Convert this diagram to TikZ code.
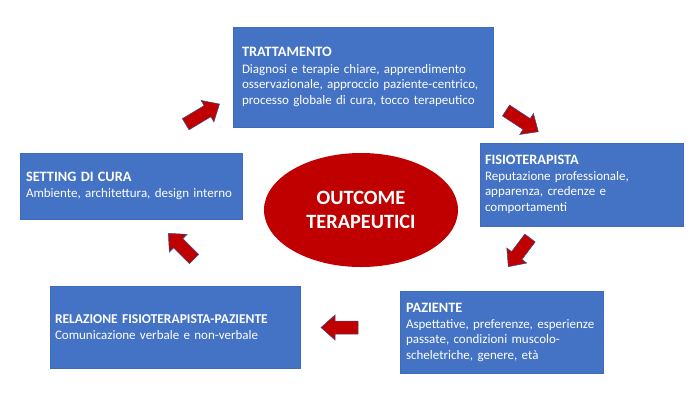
\documentclass[tikz,border=0pt]{standalone}
\usepackage{fontspec}
\setmainfont{Carlito}
\usetikzlibrary{calc,shapes.geometric}
\definecolor{boxblue}{HTML}{4472C4}
\definecolor{boxedge}{HTML}{3E6BBB}
\definecolor{arrred}{HTML}{C00000}
\definecolor{arrline}{HTML}{2F528F}
\newcommand{\blockarr}[2]{%
  \path ($(#2)!14pt!(#1)$) coordinate (#2b);
  \draw[barrow] ($(#1)!6.5pt!90:(#2)$) -- ($(#2b)!6.5pt!90:(#2)$) -- ($(#2b)!12.5pt!90:(#2)$) -- (#2)
     -- ($(#2b)!12.5pt!-90:(#2)$) -- ($(#2b)!6.5pt!-90:(#2)$) -- ($(#1)!6.5pt!-90:(#2)$) -- cycle;}
\newcommand{\ttl}[1]{{\fontsize{14.3}{17}\selectfont\bfseries #1}}
\begin{document}
\begin{tikzpicture}[x=1pt,y=-1pt,
  box/.style={fill=boxblue, draw=boxedge, line width=0.6pt, text=white, align=left,
    font=\fontsize{13}{15.5}\selectfont, inner ysep=0pt},
  outc/.style={ellipse, fill=arrred, text=white, align=center, inner sep=0pt,
    font=\bfseries\fontsize{20.3}{24}\selectfont},
  barrow/.style={fill=arrred, draw=arrline, line width=0.5pt, line join=miter}]
\useasboundingbox (0,0) rectangle (700,400);

\node[box, inner xsep=9pt, text width=242pt, minimum height=100pt] (tratt) at (363,77)
  {\ttl{TRATTAMENTO}\\[1pt]Diagnosi e terapie chiare, apprendimento\\osservazionale, approccio paziente-centrico,\\processo globale di cura, tocco terapeutico};
\node[box, inner xsep=5pt, text width=193pt, minimum height=83pt] (fisio) at (581.5,184.5)
  {\ttl{FISIOTERAPISTA}\\Reputazione professionale,\\apparenza, credenze e\\comportamenti};
\node[box, inner xsep=6pt, text width=191pt, minimum height=82pt] (paz) at (501.5,332)
  {\ttl{PAZIENTE}\\[0.5pt]Aspettative, preferenze, esperienze\\passate, condizioni muscolo-\\scheletriche, genere, età};
\node[box, inner xsep=6pt, text width=210pt, minimum height=66pt] (sett) at (131,186)
  {\ttl{SETTING DI CURA}\\Ambiente, architettura, design interno};
\node[box, inner xsep=5pt, text width=240pt, minimum height=82pt] (relaz) at (175,327)
  {{\fontsize{13.5}{16}\selectfont\bfseries RELAZIONE FISIOTERAPISTA-PAZIENTE}\\Comunicazione verbale e non-verbale};
\node[outc, minimum width=194pt, minimum height=114pt] (out) at (361,210)
  {OUTCOME\\TERAPEUTICI};

\coordinate (t1) at (185.7,124.2); \coordinate (p1) at (219.5,104);
\coordinate (t2) at (506,110.5);   \coordinate (p2) at (538.3,131.7);
\coordinate (t3) at (530,238);     \coordinate (p3) at (508.3,266.7);
\coordinate (t4) at (358,327.5);   \coordinate (p4) at (321,327.5);
\coordinate (t5) at (194,259);     \coordinate (p5) at (168.3,233.3);
\blockarr{t1}{p1}
\blockarr{t2}{p2}
\blockarr{t3}{p3}
\blockarr{t4}{p4}
\blockarr{t5}{p5}
\end{tikzpicture}
\end{document}
